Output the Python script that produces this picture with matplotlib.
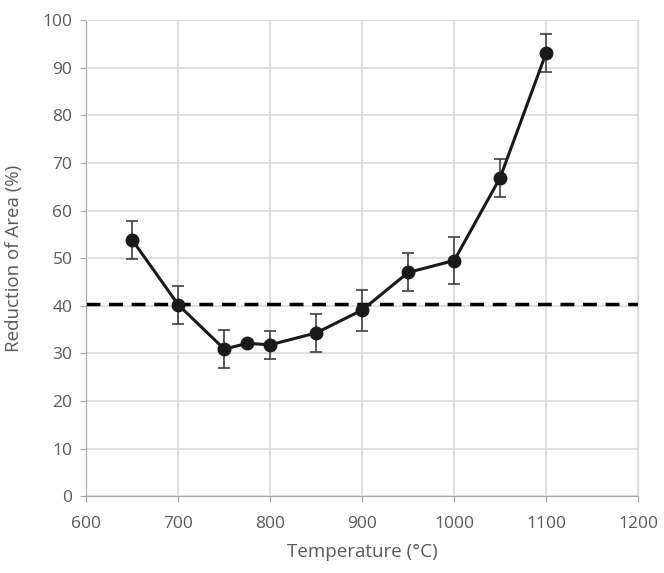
import matplotlib.pyplot as plt

temperature = [650, 700, 750, 775, 800, 850, 900, 950, 1000, 1050, 1100]
reduction = [53.8, 40.2, 30.9, 32.1, 31.8, 34.3, 39.1, 47.0, 49.5, 66.9, 93.1]
err_low = [4.0, 4.0, 4.0, 0.0, 3.0, 4.0, 4.5, 4.0, 5.0, 4.0, 4.0]
err_high = [4.0, 4.0, 4.0, 0.0, 3.0, 4.0, 4.2, 4.0, 5.0, 4.0, 4.0]
threshold = 40.3

plt.rcParams['font.family'] = ['Open Sans', 'DejaVu Sans']
grey = '#595959'

fig = plt.figure(figsize=(6.64, 5.73), dpi=100)
ax = fig.add_axes([0.13, 0.134, 0.831, 0.831])

ax.axhline(threshold, color='black', lw=2.5, ls=(0, (4, 2.5)), zorder=2)
ax.errorbar(temperature, reduction, yerr=[err_low, err_high], color='#1a1a1a',
            lw=2.2, marker='o', ms=9, ecolor='#404040', elinewidth=1.2,
            capsize=4, capthick=1.2, zorder=3)

ax.set_xlim(600, 1200)
ax.set_ylim(0, 100)
ax.set_xticks(range(600, 1201, 100))
ax.set_yticks(range(0, 101, 10))
ax.grid(True, color='#d9d9d9', lw=1.2)
ax.set_axisbelow(True)
for side in ['top', 'right']:
    ax.spines[side].set_color('#d9d9d9')
for side in ['left', 'bottom']:
    ax.spines[side].set_color('#a6a6a6')
ax.tick_params(colors='#a6a6a6', labelcolor=grey, labelsize=12.5, length=4)
ax.tick_params(axis='x', pad=10)
ax.tick_params(axis='y', pad=6)
ax.set_xlabel('Temperature (°C)', color=grey, fontsize=13.5, labelpad=8)
ax.set_ylabel('Reduction of Area (%)', color=grey, fontsize=13.5, labelpad=14)

plt.savefig('out.png')
